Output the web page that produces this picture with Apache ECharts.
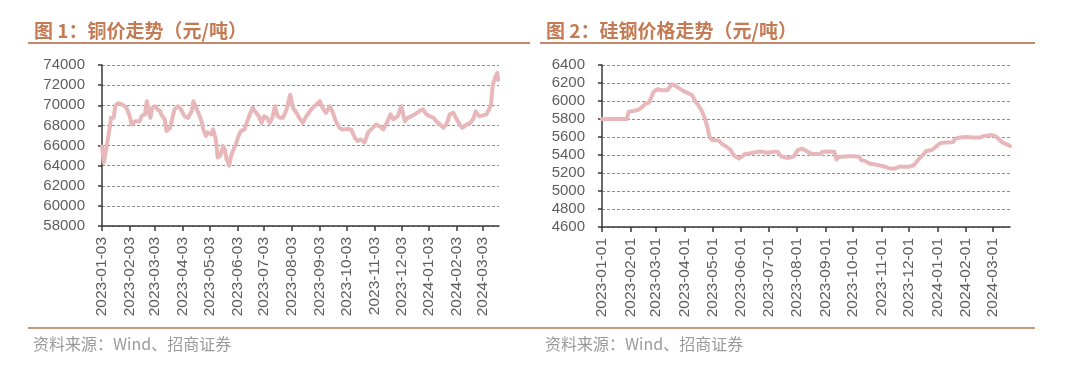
<!DOCTYPE html>
<html>
<head>
<meta charset="utf-8">
<script src="https://cdn.jsdelivr.net/npm/echarts@6/dist/echarts.min.js"></script>
<style>
html,body{margin:0;padding:0;background:#fff;}
#c{width:1080px;height:367px;}
</style>
</head>
<body>
<div id="c"></div>
<script>
// ---------- data ----------
const copperDates = ['2023-01-03','2023-01-05','2023-01-09','2023-01-12','2023-01-13','2023-01-16','2023-01-18','2023-01-21','2023-01-26','2023-01-30',
'2023-02-03','2023-02-05','2023-02-07','2023-02-09','2023-02-10','2023-02-14','2023-02-16','2023-02-20','2023-02-22','2023-02-24','2023-02-26','2023-02-28',
'2023-03-03','2023-03-06','2023-03-09','2023-03-10','2023-03-12','2023-03-14','2023-03-16','2023-03-20','2023-03-23','2023-03-25','2023-03-29',
'2023-04-01','2023-04-05','2023-04-09','2023-04-13','2023-04-15','2023-04-18','2023-04-22','2023-04-24','2023-04-26','2023-04-29',
'2023-05-01','2023-05-05','2023-05-07','2023-05-10','2023-05-12','2023-05-15','2023-05-18','2023-05-20','2023-05-22','2023-05-25','2023-05-27','2023-05-30',
'2023-06-02','2023-06-05','2023-06-07','2023-06-11','2023-06-14','2023-06-17','2023-06-20','2023-06-24','2023-06-27','2023-06-30',
'2023-07-03','2023-07-06','2023-07-09','2023-07-12','2023-07-15','2023-07-18','2023-07-21','2023-07-24','2023-07-28',
'2023-08-01','2023-08-04','2023-08-08','2023-08-11','2023-08-15','2023-08-19','2023-08-23','2023-08-26','2023-08-30',
'2023-09-03','2023-09-06','2023-09-10','2023-09-14','2023-09-17','2023-09-21','2023-09-25','2023-09-28',
'2023-10-04','2023-10-08','2023-10-12','2023-10-15','2023-10-19','2023-10-23','2023-10-27',
'2023-11-01','2023-11-05','2023-11-09','2023-11-13','2023-11-16','2023-11-21','2023-11-24','2023-11-29',
'2023-12-03','2023-12-07','2023-12-10','2023-12-14','2023-12-18','2023-12-23','2023-12-27','2023-12-31',
'2024-01-04','2024-01-08','2024-01-11','2024-01-15','2024-01-19','2024-01-23','2024-01-26','2024-01-30',
'2024-02-02','2024-02-06','2024-02-09','2024-02-14','2024-02-18','2024-02-21','2024-02-24','2024-02-28',
'2024-03-03','2024-03-07','2024-03-10','2024-03-12','2024-03-14','2024-03-17','2024-03-19','2024-03-20'];
const copperValues = [65900,64300,66300,68000,68750,68750,70000,70200,70050,69800,
68900,68100,68100,68400,68250,68400,68900,69100,70400,69400,68750,69750,
69900,69600,69400,69100,69250,68600,67450,67750,68900,69600,69900,
69600,68900,68750,69400,70400,69750,68900,68400,67600,66950,
67300,67100,67600,66600,64800,65000,65950,65650,64650,64000,65000,65650,
66300,67100,67450,67600,68400,69100,69750,69250,68900,68250,
68900,68750,68250,68750,69900,68900,68750,68750,69600,
71050,69750,69250,68750,68250,68900,69400,69750,70050,
70400,69750,69250,69900,69400,68400,67750,67600,
67650,67600,66800,66450,66600,66300,67300,
67750,68100,67900,67600,68100,69100,68600,68900,
69900,68400,68750,68900,69100,69400,69600,69100,
68900,68750,68400,68100,67750,68250,69100,69250,
68750,68100,67750,68100,68250,68600,69400,68900,
69000,69100,69600,70050,72000,72850,73200,72500];

const siliconDates = ['2023-01-01','2023-01-28','2023-01-30','2023-02-05','2023-02-10','2023-02-14','2023-02-17','2023-02-21','2023-02-24','2023-02-26',
'2023-03-02','2023-03-07','2023-03-13','2023-03-15','2023-03-18','2023-03-21','2023-03-26','2023-03-30',
'2023-04-04','2023-04-09','2023-04-13','2023-04-17','2023-04-20','2023-04-23','2023-04-26','2023-04-28',
'2023-05-01','2023-05-05','2023-05-08','2023-05-12','2023-05-17','2023-05-21','2023-05-24','2023-05-27','2023-05-30',
'2023-06-02','2023-06-06','2023-06-10','2023-06-14','2023-06-19','2023-06-25','2023-06-30',
'2023-07-06','2023-07-11','2023-07-15','2023-07-20','2023-07-24','2023-07-29',
'2023-08-02','2023-08-07','2023-08-13','2023-08-18','2023-08-26','2023-08-29',
'2023-09-04','2023-09-11','2023-09-13','2023-09-16','2023-09-20','2023-09-26',
'2023-10-03','2023-10-08','2023-10-10','2023-10-14','2023-10-19','2023-10-25','2023-10-30',
'2023-11-05','2023-11-10','2023-11-16','2023-11-21','2023-11-27',
'2023-12-02','2023-12-06','2023-12-11','2023-12-16','2023-12-20','2023-12-26','2023-12-30',
'2024-01-04','2024-01-09','2024-01-15','2024-01-18','2024-01-21','2024-01-26',
'2024-02-02','2024-02-09','2024-02-17','2024-02-20','2024-02-26',
'2024-03-02','2024-03-06','2024-03-11','2024-03-17','2024-03-20'];
const siliconValues = [5800,5800,5880,5890,5905,5935,5970,5980,6050,6100,
6130,6120,6120,6140,6185,6175,6140,6115,
6090,6065,5990,5935,5880,5805,5695,5600,
5565,5565,5560,5520,5490,5455,5400,5380,5360,
5380,5415,5415,5425,5435,5435,5425,
5435,5435,5385,5370,5370,5385,
5455,5470,5435,5410,5410,5435,
5440,5435,5350,5380,5380,5385,
5385,5380,5345,5335,5305,5295,5285,
5270,5250,5250,5270,5270,
5270,5285,5345,5400,5445,5455,5490,
5530,5540,5540,5545,5585,5595,
5600,5595,5595,5610,5620,
5620,5595,5545,5515,5500];

const copperTickLabels = ['2023-01-03','2023-02-03','2023-03-03','2023-04-03','2023-05-03','2023-06-03','2023-07-03','2023-08-03','2023-09-03','2023-10-03','2023-11-03','2023-12-03','2024-01-03','2024-02-03','2024-03-03'];
const siliconTickLabels = ['2023-01-01','2023-02-01','2023-03-01','2023-04-01','2023-05-01','2023-06-01','2023-07-01','2023-08-01','2023-09-01','2023-10-01','2023-11-01','2023-12-01','2024-01-01','2024-02-01','2024-03-01'];

const copperYTicks = [58000,60000,62000,64000,66000,68000,70000,72000,74000];
const siliconYTicks = [4600,4800,5000,5200,5400,5600,5800,6000,6200,6400];

// ---------- helpers ----------
function ts(s){ const p = s.split('-').map(Number); return Date.UTC(p[0], p[1]-1, p[2]); }
function pad(n){ return (n<10?'0':'')+n; }
function fmt(v){ const d = new Date(v); return d.getUTCFullYear()+'-'+pad(d.getUTCMonth()+1)+'-'+pad(d.getUTCDate()); }

const lineColor = '#E8B7BA';
const titleColor = '#C47A52';
const labelColor = '#5e5e5e';
const font = '"Liberation Sans", Arial, sans-serif';

function xAxisCfg(gi, ticks, min, max){
  const vals = ticks.map(ts);
  return {
    type: 'value', gridIndex: gi, min: ts(min), max: ts(max), scale: true,
    axisLine: {show: true, onZero: false, lineStyle: {color: '#3a3a3a', width: 1.5}},
    axisTick: {show: true, length: 5, customValues: vals, lineStyle: {color: '#3a3a3a', width: 1.5}},
    axisLabel: {customValues: vals, rotate: 90, margin: 11, color: labelColor, fontSize: 15.5, fontFamily: font,
      formatter: function(v){ return fmt(v); }},
    splitLine: {show: false}
  };
}
function yAxisCfg(gi, yt){
  return {
    type: 'value', gridIndex: gi, min: yt[0], max: yt[yt.length-1], interval: yt[1]-yt[0],
    axisLine: {show: true, lineStyle: {color: '#3a3a3a', width: 1.5}},
    axisTick: {show: true, length: 4, inside: false, lineStyle: {color: '#3a3a3a', width: 1.5}},
    axisLabel: {color: labelColor, fontSize: 15, fontFamily: font, margin: 17,
      formatter: function(v){ return String(v); }},
    splitLine: {show: true, lineStyle: {color: '#8f8f8f', width: 1, type: [3, 2]}}
  };
}

const titleStyle = {color: titleColor, fontSize: 19, fontWeight: 'bold', fontFamily: '"Noto Sans CJK SC", sans-serif'};
const footStyle = {color: '#9a9a9a', fontSize: 16, fontWeight: 'normal', fontFamily: '"Noto Sans CJK SC", sans-serif'};

const chart = echarts.init(document.getElementById('c'), null, {renderer: 'canvas'});
chart.setOption({
  backgroundColor: '#fff',
  animation: false,
  title: [
    {text: '图 1：铜价走势（元/吨）', left: 29, top: 16, textStyle: titleStyle},
    {text: '图 2：硅钢价格走势（元/吨）', left: 541, top: 16, textStyle: titleStyle},
    {text: '资料来源：Wind、招商证券', left: 28, top: 331, textStyle: footStyle},
    {text: '资料来源：Wind、招商证券', left: 540, top: 331, textStyle: footStyle}
  ],
  graphic: [
    {type: 'line', shape: {x1: 28, y1: 43, x2: 530, y2: 43}, style: {stroke: '#C8876A', lineWidth: 2}},
    {type: 'line', shape: {x1: 540, y1: 43, x2: 1035, y2: 43}, style: {stroke: '#C8876A', lineWidth: 2}},
    {type: 'line', shape: {x1: 28, y1: 328, x2: 1035, y2: 328}, style: {stroke: '#C8977C', lineWidth: 2}}
  ],
  grid: [
    {left: 102, top: 65, width: 397, height: 161, containLabel: false},
    {left: 602, top: 65, width: 408, height: 162, containLabel: false}
  ],
  xAxis: [
    xAxisCfg(0, copperTickLabels, '2023-01-03', '2024-03-21'),
    xAxisCfg(1, siliconTickLabels, '2023-01-01', '2024-03-20')
  ],
  yAxis: [yAxisCfg(0, copperYTicks), yAxisCfg(1, siliconYTicks)],
  series: [
    {type: 'line', xAxisIndex: 0, yAxisIndex: 0, showSymbol: false, symbol: 'none',
      lineStyle: {color: lineColor, width: 4, join: 'round', cap: 'round'},
      data: copperDates.map((d, i) => [ts(d), copperValues[i]])},
    {type: 'line', xAxisIndex: 1, yAxisIndex: 1, showSymbol: false, symbol: 'none',
      lineStyle: {color: lineColor, width: 4, join: 'round', cap: 'round'},
      data: siliconDates.map((d, i) => [ts(d), siliconValues[i]])}
  ]
});
</script>
</body>
</html>
